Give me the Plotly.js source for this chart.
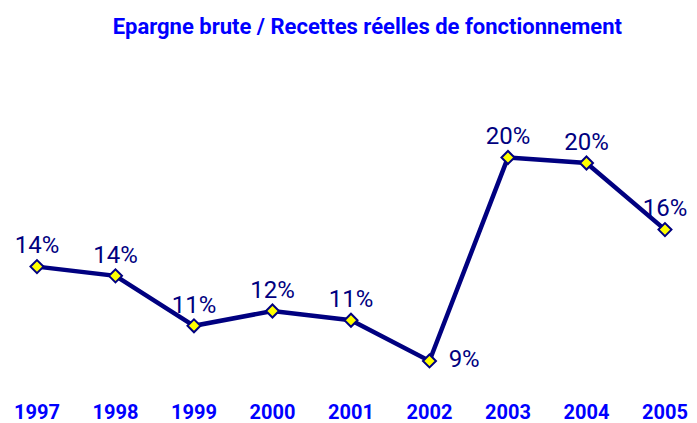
<!DOCTYPE html>
<html>
<head>
<meta charset="utf-8">
<script src="https://cdn.plot.ly/plotly-3.0.1.min.js"></script>
<style>html,body{margin:0;padding:0;background:#fff;}#chart{width:697px;height:423px;}</style>
</head>
<body>
<div id="chart"></div>
<script>
var years = [1997, 1998, 1999, 2000, 2001, 2002, 2003, 2004, 2005];
var ratios = [14.3, 13.8, 11.1, 11.9, 11.4, 9.2, 20.2, 19.9, 16.3];
var tickLabels = ['1997','1998','1999','2000','2001','2002','2003','2004','2005'];
var positions = ['top center','top center','top center','top center','top center','middle right','top center','top center','top center'];
var labels = ratios.map(function(v, i){
  return (positions[i] === 'middle right' ? '\u00a0\u00a0' : '') + Math.round(v) + '%';
});

var trace = {
  x: years,
  y: ratios,
  type: 'scatter',
  mode: 'lines+markers+text',
  text: labels,
  textposition: positions,
  textfont: {family: 'Roboto, "Liberation Sans", Arial, sans-serif', size: 24, color: '#000080'},
  line: {color: '#000080', width: 4.5},
  marker: {symbol: 'diamond', size: 10, color: '#FFFF00', line: {color: '#000080', width: 2}},
  cliponaxis: false,
  hoverinfo: 'none'
};

var layout = {
  width: 697, height: 423,
  margin: {l: 0, r: 0, t: 60, b: 33},
  paper_bgcolor: '#ffffff', plot_bgcolor: '#ffffff',
  showlegend: false,
  title: {
    text: '<b>Epargne brute / Recettes réelles de fonctionnement</b>',
    font: {family: 'Roboto, "Liberation Sans", Arial, sans-serif', size: 22, color: '#0000FF'},
    x: 0.527, xref: 'container', xanchor: 'center',
    y: 0.938, yref: 'container', yanchor: 'middle'
  },
  xaxis: {
    range: [1996.529, 2005.408],
    tickvals: years, ticktext: tickLabels.map(function(t){return '<b>'+t+'</b>';}),
    showgrid: false, zeroline: false, showline: false, ticks: '',
    ticklabelstandoff: 8,
    tickfont: {family: 'Roboto, "Liberation Sans", Arial, sans-serif', size: 20, color: '#0000FF'}
  },
  yaxis: {
    range: [7.63, 25.47],
    visible: false, showgrid: false, zeroline: false
  }
};

Plotly.newPlot('chart', [trace], layout, {staticPlot: true, displayModeBar: false});
</script>
</body>
</html>
